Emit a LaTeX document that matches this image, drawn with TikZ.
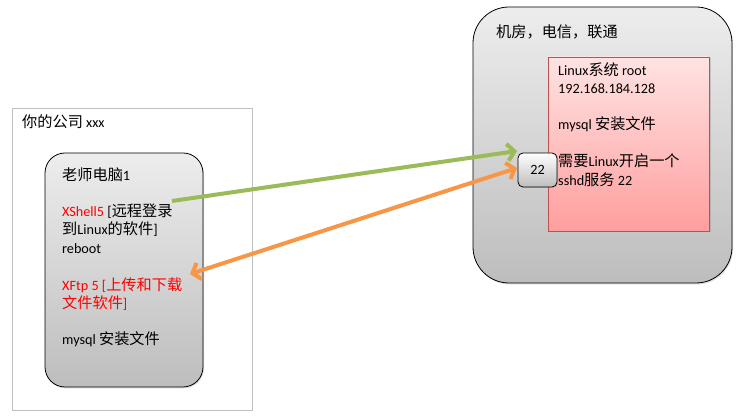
\documentclass[tikz,border=0pt]{standalone}
\usepackage{fontspec}
\setmainfont{Carlito}
\newfontfamily\cjk[Scale=1.07]{Noto Sans CJK SC}
\usetikzlibrary{arrows.meta,shadows}
\newcommand\zh[1]{{\cjk #1}}
\definecolor{greenA}{HTML}{9BBB59}
\definecolor{orangeA}{HTML}{F79646}
\definecolor{pinkT}{HTML}{FFE3E3}
\definecolor{pinkB}{HTML}{FF9E9E}
\definecolor{pinkD}{HTML}{C0504D}
\definecolor{greyT}{HTML}{EDEDED}
\definecolor{greyB}{HTML}{BDBDBD}
\definecolor{frameG}{HTML}{BFBFBF}
\begin{document}
\begin{tikzpicture}[x=1pt,y=-1pt,
  txt/.style={inner sep=0pt, font=\fontsize{14.2}{18}\selectfont, anchor=base west},
  greybox/.style={draw=black, line width=0.8pt, top color=greyT, bottom color=greyB},
  arr/.style={line width=4pt},
  barb/.tip={Straight Barb[length=7pt,width=17pt]}]
\useasboundingbox (0,0) rectangle (745,419);
\fill[white] (0,0) rectangle (745,419);
% company frame
\node[draw=frameG, line width=0.8pt, minimum width=240pt, minimum height=302pt, inner sep=0pt] (company) at (132,259) {};
% teacher computer
\node[greybox, rounded corners=20pt, minimum width=158pt, minimum height=234pt, inner sep=0pt,
  drop shadow={opacity=0.25, shadow xshift=1pt, shadow yshift=-1.5pt}] (comp) at (124,270) {};
% machine room
\node[greybox, rounded corners=36pt, minimum width=259pt, minimum height=276pt, inner sep=0pt,
  drop shadow={opacity=0.25, shadow xshift=1pt, shadow yshift=-1.5pt}] (room) at (602.5,145) {};
% linux box
\node[draw=pinkD, line width=0.8pt, top color=pinkT, bottom color=pinkB, minimum width=161pt, minimum height=174pt, inner sep=0pt,
  drop shadow={opacity=0.3, shadow xshift=1.5pt, shadow yshift=-1.5pt}] (linux) at (628.5,144) {};

% texts left
\node[txt] (t1) at (22,128) {\zh{你的公司} xxx};
\node[txt] (t2) at (62,181) {\zh{老师电脑}1};
\node[txt] (t3) at (62,217) {\textcolor{red}{XShell5} [\zh{远程登录}};
\node[txt] (t4) at (62,235) {\zh{到}Linux\zh{的软件}]};
\node[txt] (t5) at (62,254) {reboot};
\node[txt, text=red] (t6) at (62,291) {XFtp 5 [\zh{上传和下载}};
\node[txt, text=red] (t7) at (62,309) {\zh{文件软件}]};
\node[txt] (t8) at (62,345) {mysql \zh{安装文件}};

% texts right
\node[txt] (r1) at (496,38) {\zh{机房，电信，联通}};
\node[txt] (r2) at (558,76) {Linux\zh{系统} root};
\node[txt] (r3) at (558,94) {192.168.184.128};
\node[txt] (r4) at (558,130) {mysql \zh{安装文件}};
\node[txt] (r5) at (558,167) {\zh{需要}Linux\zh{开启一个}};
\node[txt] (r6) at (558,186) {sshd\zh{服务} 22};

% port box
\node[draw=black, line width=0.8pt, rounded corners=5pt, top color=white, bottom color=greyB,
  minimum width=39pt, minimum height=34pt, inner sep=0pt, font=\fontsize{14.2}{18}\selectfont,
  drop shadow={opacity=0.25, shadow xshift=1pt, shadow yshift=-1pt}] (port) at (537.5,170) {22};

% arrows
\coordinate (gs) at (172,201);
\coordinate (ge) at (517,151);
\coordinate (os) at (190,274);
\coordinate (oe) at (517,168);
\draw[arr, greenA, -{barb}] (gs) -- (ge);
\draw[arr, orangeA, {barb}-{barb}] (os) -- (oe);
\end{tikzpicture}
\end{document}
